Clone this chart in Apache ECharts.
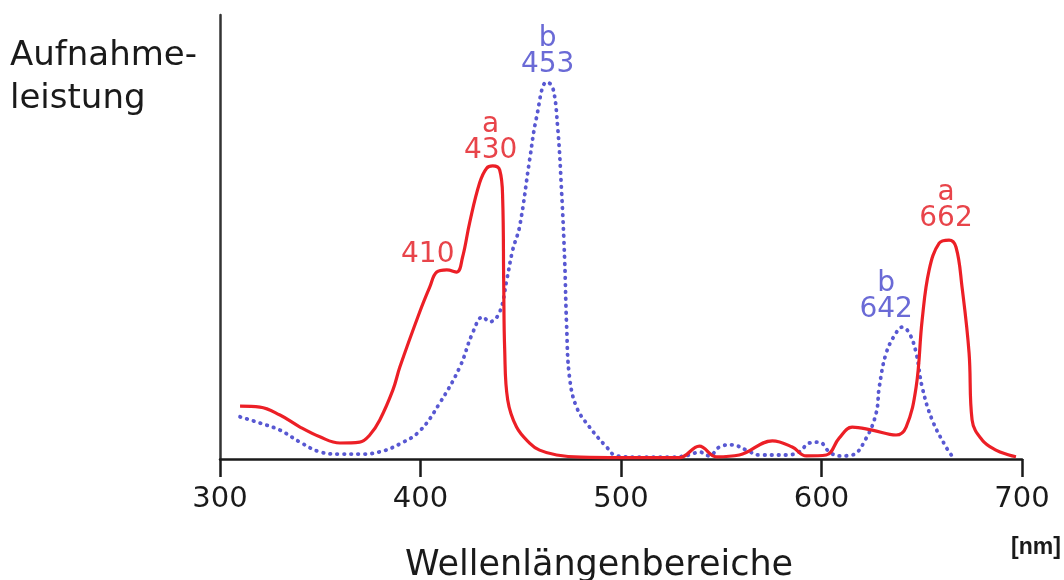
<!DOCTYPE html>
<html>
<head>
<meta charset="utf-8">
<script src="https://cdn.jsdelivr.net/npm/echarts@6/dist/echarts.min.js"></script>
<style>
html,body{margin:0;padding:0;background:#fff;}
#c{width:1064px;height:580px;}
</style>
</head>
<body>
<div id="c"></div>
<script>
// Chlorophyll a (red, solid): wavelength [nm] and relative absorption
var waveA = [310,319.9,329.9,339.9,349.8,359.8,369.7,374.7,379.7,386.2,389.7,399.6,404.6,408.1,413.1,418.1,421,424.5,429.5,433,436,439.5,441,441.5,442,443.5,447.9,454.4,459.4,467.9,480,500,520,529.1,539.1,547.6,559,575.5,585.4,592.4,602.4,608.8,615.3,625.3,637.2,642.2,647.2,650.2,653.7,658.7,663.6,667.1,670.1,673.6,675.1,680.1,687,693.5,697];
var valA  = [11.9,11.7,9.9,7.2,5.0,3.6,3.8,5.4,8.8,15.5,20.7,33.1,38.7,42.1,42.6,42.1,45.5,53.2,62.2,65.5,66.0,65.1,58.3,39.6,24.5,13.3,7.2,3.6,2.0,0.9,0.4,0.3,0.3,0.3,2.9,0.5,0.9,4.1,2.7,0.7,0.9,4.7,7.2,6.5,5.4,7.2,16.2,31.3,42.6,48.6,49.3,47.7,38.7,23.9,8.8,4.3,2.0,0.9,0.5];
// Chlorophyll b (blue, dotted)
var waveB = [310,319.9,329.9,339.9,349.8,359.8,369.7,379.7,389.7,399.6,409.6,419.6,426,431,434.5,439.5,443,446,449.4,454.4,457.9,462.9,465.9,468.4,470.4,471.9,472.9,474.3,477.8,484.3,492.8,497.8,510,525,534.1,539.1,544.1,549.1,555.5,562.5,569,582.4,588.9,593.9,598.9,603.9,608.8,615.3,622.3,627.3,628.8,632.3,637.2,640.2,643.7,647.2,650.2,655.2,662.1,665.1];
var valB  = [9.5,8.1,6.5,3.8,1.6,1.1,1.1,1.6,3.4,6.3,12.6,20.7,28.4,32.0,30.9,33.1,40.3,47.1,52.3,67.3,77.0,84.9,83.8,74.8,59.9,44.8,29.7,18.5,11.7,7.2,2.7,0.7,0.4,0.4,0.9,1.6,0.7,2.7,3.2,2.0,0.9,0.9,1.6,3.6,3.8,1.6,0.7,0.9,4.7,10.4,16.2,23.9,28.4,29.7,28.4,23.9,16.2,8.8,2.7,0.7];
// x-axis ticks
var xTicks = [300,400,500,600,700];
// peak annotations: anchor wavelength, anchor value, text, which pigment
var peakWave = [436, 413.1, 663.6, 462.9, 640.2];
var peakVal  = [66.0, 42.6, 49.3, 84.9, 29.7];
var peakText = ['a\n430', '410', 'a\n662', 'b\n453', 'b\n642'];
var peakSeries = ['a','a','a','b','b'];

var RED = '#ec1f26', BLUE = '#5858d2';
var RED_T = '#e8444a', BLUE_T = '#6a6ad6';
var labelOffsets = [[-2,2],[-19,2],[-3,-4],[1,0],[-16,0]];

function pairs(xs, ys){ return xs.map(function(x,i){ return [x, ys[i]]; }); }

var labelPoints = peakWave.map(function(w,i){
  var isA = peakSeries[i] === 'a';
  return {
    coord: [w, peakVal[i]],
    value: peakText[i],
    label: {
      show: true, position: 'top', distance: 4,
      offset: labelOffsets[i],
      formatter: peakText[i],
      color: isA ? RED_T : BLUE_T,
      fontFamily: 'DejaVu Sans', fontSize: 28, lineHeight: 26, align: 'center'
    }
  };
});

var chart = echarts.init(document.getElementById('c'), null, {renderer:'canvas'});
chart.setOption({
  animation: false,
  backgroundColor: '#ffffff',
  grid: {left: 220, right: 42, top: 15, bottom: 121, containLabel: false},
  xAxis: {
    type: 'value', min: xTicks[0], max: xTicks[xTicks.length-1], interval: 100,
    axisLine: {show: true, lineStyle: {color: '#1a1a1a', width: 2.5}},
    axisTick: {show: true, length: 18, inside: false, lineStyle: {color: '#1a1a1a', width: 2.5}},
    axisLabel: {color: '#1a1a1a', fontFamily: 'DejaVu Sans', fontSize: 29, margin: 26},
    splitLine: {show: false}
  },
  yAxis: {
    type: 'value', min: 0, max: 100,
    axisLine: {show: true, onZero: false, lineStyle: {color: '#333', width: 2.5}},
    axisTick: {show: false}, axisLabel: {show: false}, splitLine: {show: false}
  },
  series: [
    {
      name: 'b', type: 'line', data: pairs(waveB, valB), showSymbol: false,
      smooth: 0.4,
      lineStyle: {color: BLUE, width: 3.8, type: [0.5, 6.5], cap: 'round'}, z: 2
    },
    {
      name: 'a', type: 'line', data: pairs(waveA, valA), showSymbol: false,
      smooth: 0.4,
      lineStyle: {color: RED, width: 3.2}, z: 3,
      markPoint: {
        symbol: 'circle', symbolSize: 1, silent: true,
        itemStyle: {color: 'rgba(0,0,0,0)'},
        data: labelPoints
      }
    }
  ],
  graphic: [
    {type: 'text', left: 10, top: 35, style: {text: 'Aufnahme-\nleistung', fontFamily: 'DejaVu Sans', fontSize: 34, lineHeight: 43, fill: '#1a1a1a'}},
    {type: 'text', left: 405, top: 548, style: {text: 'Wellenlängenbereiche', fontFamily: 'DejaVu Sans', fontSize: 35, fill: '#1a1a1a'}},
    {type: 'text', left: 1011, top: 536, style: {text: '[nm]', fontFamily: 'Liberation Sans', fontWeight: 'bold', fontSize: 23, fill: '#1a1a1a'}}
  ]
});
</script>
</body>
</html>
